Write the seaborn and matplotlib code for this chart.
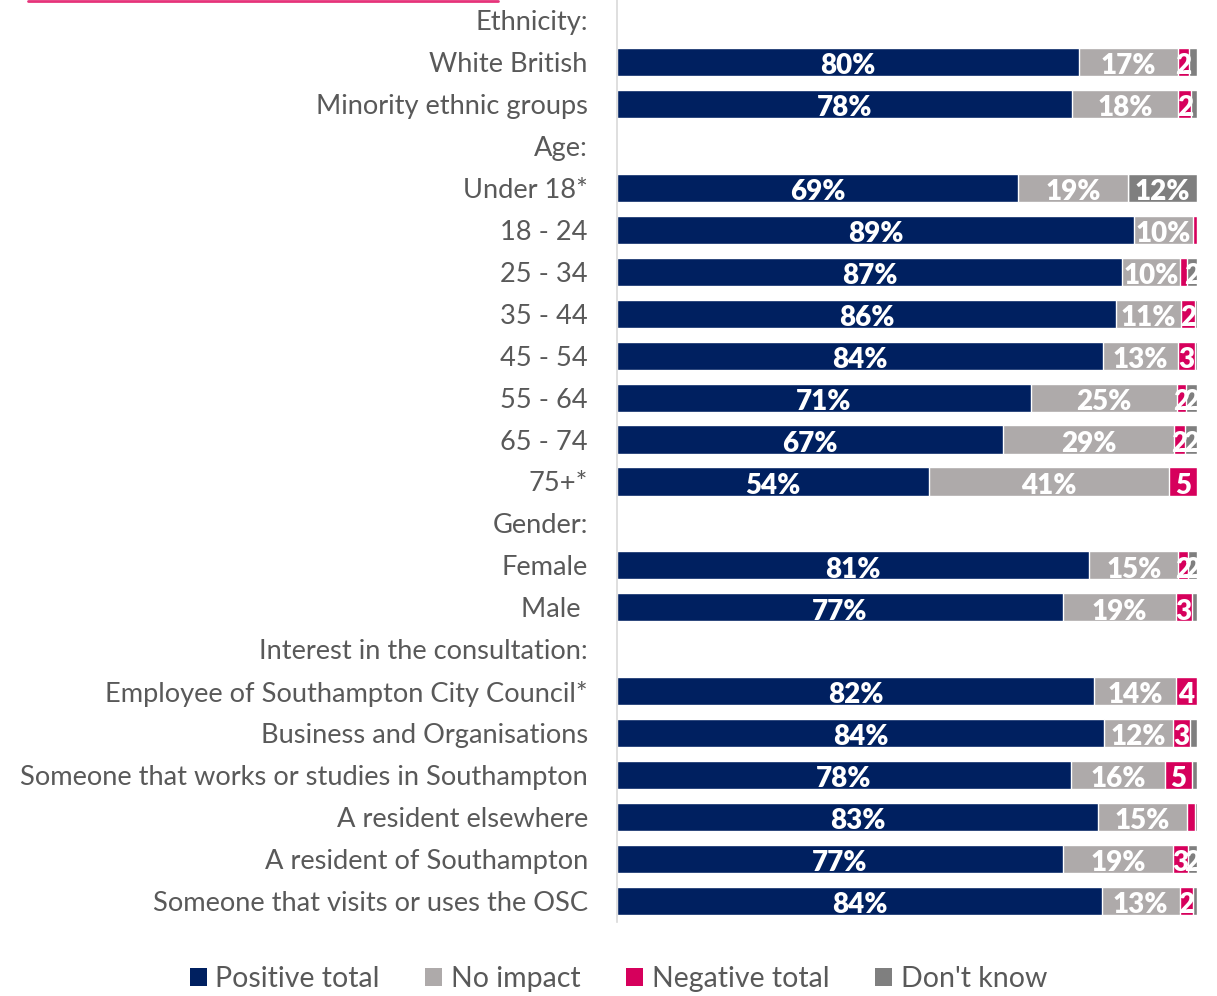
import matplotlib
matplotlib.use("Agg")
import matplotlib.pyplot as plt
import seaborn as sns
import pandas as pd
import numpy as np
from matplotlib.patches import Patch
from matplotlib.lines import Line2D

categories = [
    "Ethnicity:", "White British", "Minority ethnic groups",
    "Age:", "Under 18*", "18 - 24", "25 - 34", "35 - 44", "45 - 54",
    "55 - 64", "65 - 74", "75+*",
    "Gender:", "Female", "Male ",
    "Interest in the consultation:", "Employee of Southampton City Council*",
    "Business and Organisations", "Someone that works or studies in Southampton",
    "A resident elsewhere", "A resident of Southampton", "Someone that visits or uses the OSC",
]
positive = [0, 79.7, 78.4, 0, 69.1, 89.1, 87.1, 86.0, 83.8, 71.4, 66.6, 53.8,
            0, 81.4, 76.9, 0, 82.2, 84.0, 78.3, 82.9, 76.9, 83.6]
no_impact = [0, 17.0, 18.4, 0, 19.0, 10.2, 10.0, 11.3, 13.0, 25.1, 29.4, 41.3,
             0, 15.4, 19.4, 0, 14.2, 11.8, 16.2, 15.4, 18.9, 13.4]
negative = [0, 2.0, 2.2, 0, 0, 0.7, 1.1, 2.4, 2.8, 1.6, 1.9, 4.9,
            0, 1.6, 2.8, 0, 3.6, 3.0, 4.6, 1.3, 2.6, 2.3]
dont_know = [0, 1.3, 1.0, 0, 11.9, 0, 1.8, 0.3, 0.4, 1.9, 2.1, 0,
             0, 1.6, 0.9, 0, 0, 1.2, 0.9, 0.4, 1.6, 0.7]

series = ["Positive total", "No impact", "Negative total", "Don't know"]
colors = ["#002060", "#AEAAAA", "#D6005C", "#7F7F7F"]
text_grey = "#595959"

df = pd.DataFrame({"category": categories, "Positive total": positive,
                   "No impact": no_impact, "Negative total": negative,
                   "Don't know": dont_know})
cum = df[series].cumsum(axis=1)

sns.set_style("white")
plt.rcParams["font.family"] = ["Lato", "DejaVu Sans"]

fig = plt.figure(figsize=(12.17, 9.96), dpi=100)
ax = fig.add_axes([617 / 1217, 74 / 996, 580 / 1217, 923 / 996])

# stacked bars: draw cumulative totals from the largest down
for name, col in reversed(list(zip(series, colors))):
    sns.barplot(x=cum[name], y=df["category"], orient="h", color=col,
                width=0.67, saturation=1, ax=ax)

# segment labels
for i in range(len(df)):
    left = 0
    for name in series:
        v = df.loc[i, name]
        if v >= 10:
            txt = f"{v:.0f}%"
        elif v >= 1.5:
            txt = f"{v:.0f}"
        else:
            txt = ""
        if txt:
            ax.text(left + v / 2, i + 0.04, txt, ha="center", va="center_baseline",
                    color="white", fontsize=20, fontweight="heavy", clip_on=False)
        left += v

ax.set_xlim(0, 100)
ax.set_ylim(len(df) - 0.5, -0.5)
ax.set_xticks([])
ax.set_xlabel("")
ax.set_ylabel("")
ax.tick_params(axis="y", length=0, pad=21, labelsize=19.6, labelcolor=text_grey)
for s in ["top", "right", "bottom"]:
    ax.spines[s].set_visible(False)
ax.spines["left"].set_color("#D9D9D9")
ax.spines["left"].set_linewidth(1.2)

handles = [Patch(facecolor=c, edgecolor="none") for c in colors]
fig.legend(handles, series, loc="center", bbox_to_anchor=(0.508, 17 / 996),
           ncol=4, frameon=False, fontsize=20.5, labelcolor=text_grey,
           handlelength=0.6, handleheight=0.6, handletextpad=0.3,
           columnspacing=1.6)

# pink rule at the top left
fig.add_artist(Line2D([28 / 1217, 498 / 1217], [0.999, 0.999],
                      color="#E6337A", linewidth=2))

fig.savefig("out.png", dpi=100)
